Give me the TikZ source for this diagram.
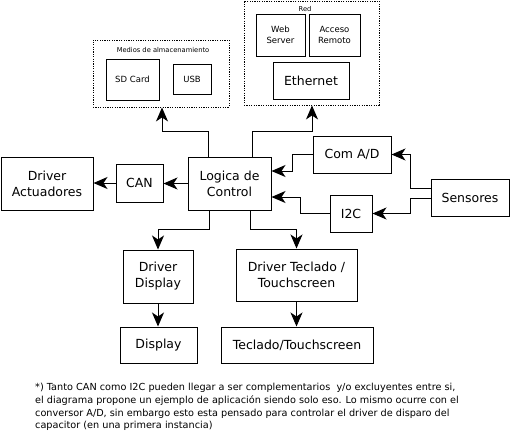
\documentclass[tikz,border=0pt]{standalone}
\usepackage{fontspec}
\setmainfont{DejaVu Sans}
\usetikzlibrary{arrows.meta}
\begin{document}
\begin{tikzpicture}[x=1pt,y=-1pt,
  box/.style={draw,line width=1pt,inner sep=0pt,align=center,font=\fontsize{12.5}{16}\selectfont},
  sbox/.style={draw,line width=1pt,inner sep=0pt,align=center,font=\fontsize{8.5}{11.5}\selectfont},
  group/.style={draw,line width=0.9pt,dash pattern=on 1.2pt off 1.2pt,inner sep=0pt},
  ttl/.style={font=\fontsize{6.7}{8}\selectfont,inner sep=0pt},
  arr/.style={line width=1pt,-{Stealth[length=14pt,width=12pt,inset=4pt]}}]
\useasboundingbox (0,0) rectangle (510,432);
% groups
\node[group,minimum width=136pt,minimum height=67pt] (medios) at (161,73.5) {};
\node[ttl] (mediost) at (163,50) {Medios de almacenamiento};
\node[sbox,minimum width=53pt,minimum height=41pt] (sd) at (132.5,79.5) {SD Card};
\node[sbox,minimum width=38pt,minimum height=30pt] (usb) at (192,79) {USB};
\node[group,minimum width=135pt,minimum height=104pt] (red) at (311.5,53) {};
\node[ttl] (redt) at (305,9) {Red};
\node[sbox,minimum width=49pt,minimum height=42pt] (web) at (280.5,35) {Web\\Server};
\node[sbox,minimum width=51pt,minimum height=42pt] (acc) at (334.5,35) {Acceso\\Remoto};
\node[box,minimum width=76pt,minimum height=37pt] (eth) at (311,80.5) {Ethernet};
% main row
\node[box,minimum width=92pt,minimum height=53pt] (da) at (47,183.5) {Driver\\Actuadores};
\node[box,minimum width=47pt,minimum height=38pt] (can) at (139.5,183) {CAN};
\node[box,minimum width=83pt,minimum height=53pt] (log) at (229.5,183.5) {Logica de\\Control};
\node[box,minimum width=78pt,minimum height=37pt] (com) at (352,154.5) {Com A/D};
\node[box,minimum width=42pt,minimum height=37pt] (i2c) at (351,213.5) {I2C};
\node[box,minimum width=78pt,minimum height=37pt] (sens) at (470,197.5) {Sensores};
% bottom
\node[box,minimum width=70pt,minimum height=53pt] (dd) at (158,276.5) {Driver\\Display};
\node[box,minimum width=121pt,minimum height=52pt] (dt) at (296.5,275) {Driver Teclado /\\Touchscreen};
\node[box,minimum width=77pt,minimum height=36pt] (disp) at (158.5,345) {Display};
\node[box,minimum width=152pt,minimum height=36pt] (tt) at (297,345) {Teclado/Touchscreen};
% connectors
\coordinate (m1) at (162,131);
\coordinate (r1) at (312,131);
\draw[arr] ([xshift=-21.5pt]log.north) |- (m1) -- (m1 |- medios.south);
\draw[arr] ([xshift=22.5pt]log.north) |- (r1) -- (r1 |- red.south);
\draw[arr] (log.west) -- (can.east |- log.west);
\draw[arr] (can.west) -- (can.west -| da.east);
\draw[arr] (com.west) -- ++(-20,0) |- ([yshift=12.5pt]log.east);
\draw[arr] (i2c.west) -- ++(-29,0) |- ([yshift=-13.5pt]log.east);
\draw[arr] ([yshift=9.5pt]sens.west) -- ++(-20,0) |- (com.east);
\draw[arr] ([yshift=-0.5pt]sens.west) -- ++(-20,0) |- (i2c.east);
\draw[arr] ([xshift=-20.5pt]log.south) -- ++(0,19) -| (dd.north);
\draw[arr] ([xshift=20.5pt]log.south) -- ++(0,19) -| (dt.north);
\draw[arr] (dd.south) -- (dd.south |- disp.north);
\draw[arr] (dt.south) -- (dt.south |- tt.north);
% note
\node[anchor=north west,inner sep=0pt,align=left,font=\fontsize{9.7}{12.7}\selectfont] (note) at (35,383.3)
{*) Tanto CAN como I2C pueden llegar a ser complementarios\ \ y/o excluyentes entre si,\\
el diagrama propone un ejemplo de aplicación siendo solo eso. Lo mismo ocurre con el\\
conversor A/D, sin embargo esto esta pensado para controlar el driver de disparo del\\
capacitor (en una primera instancia)};
\end{tikzpicture}
\end{document}
